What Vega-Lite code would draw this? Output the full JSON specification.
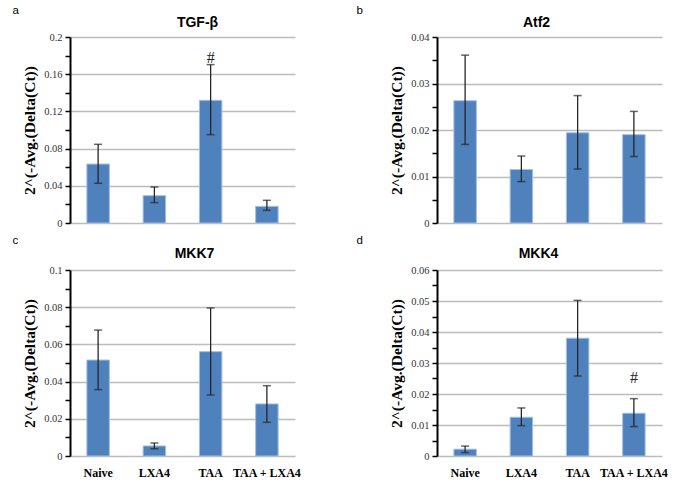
{
  "$schema": "https://vega.github.io/schema/vega-lite/v6.json",
  "padding": {"left": 12, "top": 4, "right": 0, "bottom": 0},
  "background": "white",
  "datasets": {
    "expr": [
      {"panel": "a", "group": "Naive", "mean": 0.0634, "lo": 0.0427, "hi": 0.0846, "sig": ""},
      {"panel": "a", "group": "LXA4", "mean": 0.0294, "lo": 0.0219, "hi": 0.0387, "sig": ""},
      {"panel": "a", "group": "TAA", "mean": 0.1319, "lo": 0.095, "hi": 0.1703, "sig": "#"},
      {"panel": "a", "group": "TAA + LXA4", "mean": 0.0179, "lo": 0.0136, "hi": 0.0244, "sig": ""},
      {"panel": "b", "group": "Naive", "mean": 0.0263, "lo": 0.0169, "hi": 0.0361, "sig": ""},
      {"panel": "b", "group": "LXA4", "mean": 0.0115, "lo": 0.0089, "hi": 0.0144, "sig": ""},
      {"panel": "b", "group": "TAA", "mean": 0.0194, "lo": 0.0116, "hi": 0.0274, "sig": ""},
      {"panel": "b", "group": "TAA + LXA4", "mean": 0.019, "lo": 0.0143, "hi": 0.024, "sig": ""},
      {"panel": "c", "group": "Naive", "mean": 0.0516, "lo": 0.0357, "hi": 0.0677, "sig": ""},
      {"panel": "c", "group": "LXA4", "mean": 0.0054, "lo": 0.0039, "hi": 0.007, "sig": ""},
      {"panel": "c", "group": "TAA", "mean": 0.0561, "lo": 0.0328, "hi": 0.0796, "sig": ""},
      {"panel": "c", "group": "TAA + LXA4", "mean": 0.028, "lo": 0.0181, "hi": 0.0378, "sig": ""},
      {"panel": "d", "group": "Naive", "mean": 0.0022, "lo": 0.0011, "hi": 0.0032, "sig": ""},
      {"panel": "d", "group": "LXA4", "mean": 0.0125, "lo": 0.0098, "hi": 0.0155, "sig": ""},
      {"panel": "d", "group": "TAA", "mean": 0.038, "lo": 0.0258, "hi": 0.0502, "sig": ""},
      {"panel": "d", "group": "TAA + LXA4", "mean": 0.0138, "lo": 0.0095, "hi": 0.0185, "sig": "#"}
    ]
  },
  "data": {"name": "expr"},
  "config": {
    "view": {"stroke": null},
    "title": {"font": "Liberation Sans", "fontWeight": "bold", "fontSize": 14, "color": "black", "anchor": "middle", "baseline": "alphabetic", "offset": 6},
    "axisY": {
      "domainColor": "black", "domainWidth": 2, "tickColor": "black", "tickWidth": 1.5, "tickSize": 5,
      "labelFont": "Liberation Serif", "labelFontSize": 10.5, "labelColor": "#333333", "labelPadding": 3,
      "titleFont": "Liberation Serif", "titleFontWeight": "bold", "titleFontSize": 15.5, "titleColor": "black", "titlePadding": 6,
      "gridColor": "#bcbcbc", "gridWidth": 1.5
    },
    "axisX": {
      "domain": false, "ticks": false, "grid": false,
      "labelFont": "Liberation Serif", "labelFontWeight": "bold", "labelFontSize": 12, "labelColor": "black", "labelPadding": 11, "labelAngle": 0,
      "titleFont": "Liberation Sans", "titleFontWeight": "normal", "titleFontSize": 11.5, "titleColor": "black",
      "titleAlign": "left", "titleBaseline": "alphabetic", "titleAnchor": "start"
    }
  },
  "columns": 2,
  "spacing": {"row": 47, "column": 142},
  "bounds": "flush",
  "concat": [
    {
      "width": 225, "height": 186,
      "title": {"text": "TGF-β", "dx": 15, "dy": 32},
      "transform": [{"filter": "datum.panel == 'a'"}],
      "resolve": {"axis": {"y": "independent"}},
      "encoding": {
        "x": {"field": "group", "type": "nominal", "sort": ["Naive", "LXA4", "TAA", "TAA + LXA4"],
              "scale": {"paddingInner": 0.6, "paddingOuter": 0.3},
              "axis": {"labels": false, "title": "a", "titleX": -58, "titleY": -210}}
      },
      "layer": [
        {"mark": {"type": "bar", "color": "#4f81bd", "stroke": "#a3bfe2", "strokeWidth": 1},
         "encoding": {"y": {"field": "mean", "type": "quantitative", "scale": {"domain": [0, 0.2]},
           "axis": {"title": "2^(-Avg.(Delta(Ct))", "orient": "left", "labelOverlap": false, "format": "~g",
             "values": [0, 0.04, 0.08, 0.12, 0.16, 0.2]}}}},
        {"mark": {"type": "rule", "color": "#262626", "strokeWidth": 1.3},
         "encoding": {"y": {"field": "lo", "type": "quantitative",
           "axis": {"title": null, "orient": "left", "labels": false, "grid": false, "domain": false,
             "values": [0.02, 0.06, 0.1, 0.14, 0.18]}}, "y2": {"field": "hi"}}},
        {"mark": {"type": "tick", "color": "#262626", "size": 8, "thickness": 1.5},
         "encoding": {"y": {"field": "lo", "type": "quantitative", "axis": null}}},
        {"mark": {"type": "tick", "color": "#262626", "size": 8, "thickness": 1.5},
         "encoding": {"y": {"field": "hi", "type": "quantitative", "axis": null}}},
        {"mark": {"type": "text", "font": "Liberation Serif", "fontSize": 16, "baseline": "middle", "dy": -7, "color": "#222222"},
         "encoding": {"y": {"field": "hi", "type": "quantitative", "axis": null}, "text": {"field": "sig"}}}
      ]
    },
    {
      "width": 225, "height": 186,
      "title": {"text": "Atf2", "dx": -13, "dy": 32},
      "transform": [{"filter": "datum.panel == 'b'"}],
      "resolve": {"axis": {"y": "independent"}},
      "encoding": {
        "x": {"field": "group", "type": "nominal", "sort": ["Naive", "LXA4", "TAA", "TAA + LXA4"],
              "scale": {"paddingInner": 0.6, "paddingOuter": 0.3},
              "axis": {"labels": false, "title": "b", "titleX": -81, "titleY": -210}}
      },
      "layer": [
        {"mark": {"type": "bar", "color": "#4f81bd", "stroke": "#a3bfe2", "strokeWidth": 1},
         "encoding": {"y": {"field": "mean", "type": "quantitative", "scale": {"domain": [0, 0.04]},
           "axis": {"title": "2^(-Avg.(Delta(Ct))", "orient": "left", "labelOverlap": false, "format": "~g",
             "values": [0, 0.01, 0.02, 0.03, 0.04]}}}},
        {"mark": {"type": "rule", "color": "#262626", "strokeWidth": 1.3},
         "encoding": {"y": {"field": "lo", "type": "quantitative",
           "axis": {"title": null, "orient": "left", "labels": false, "grid": false, "domain": false,
             "values": [0.005, 0.015, 0.025, 0.035]}}, "y2": {"field": "hi"}}},
        {"mark": {"type": "tick", "color": "#262626", "size": 8, "thickness": 1.5},
         "encoding": {"y": {"field": "lo", "type": "quantitative", "axis": null}}},
        {"mark": {"type": "tick", "color": "#262626", "size": 8, "thickness": 1.5},
         "encoding": {"y": {"field": "hi", "type": "quantitative", "axis": null}}}
      ]
    },
    {
      "width": 225, "height": 186,
      "title": {"text": "MKK7", "dx": 12, "dy": 33},
      "transform": [{"filter": "datum.panel == 'c'"}],
      "resolve": {"axis": {"y": "independent"}},
      "encoding": {
        "x": {"field": "group", "type": "nominal", "sort": ["Naive", "LXA4", "TAA", "TAA + LXA4"],
              "scale": {"paddingInner": 0.6, "paddingOuter": 0.3},
              "axis": {"title": "c", "titleX": -58, "titleY": -213}}
      },
      "layer": [
        {"mark": {"type": "bar", "color": "#4f81bd", "stroke": "#a3bfe2", "strokeWidth": 1},
         "encoding": {"y": {"field": "mean", "type": "quantitative", "scale": {"domain": [0, 0.1]},
           "axis": {"title": "2^(-Avg.(Delta(Ct))", "orient": "left", "labelOverlap": false, "format": "~g",
             "values": [0, 0.02, 0.04, 0.06, 0.08, 0.1]}}}},
        {"mark": {"type": "rule", "color": "#262626", "strokeWidth": 1.3},
         "encoding": {"y": {"field": "lo", "type": "quantitative",
           "axis": {"title": null, "orient": "left", "labels": false, "grid": false, "domain": false,
             "values": [0.01, 0.03, 0.05, 0.07, 0.09]}}, "y2": {"field": "hi"}}},
        {"mark": {"type": "tick", "color": "#262626", "size": 8, "thickness": 1.5},
         "encoding": {"y": {"field": "lo", "type": "quantitative", "axis": null}}},
        {"mark": {"type": "tick", "color": "#262626", "size": 8, "thickness": 1.5},
         "encoding": {"y": {"field": "hi", "type": "quantitative", "axis": null}}}
      ]
    },
    {
      "width": 225, "height": 186,
      "title": {"text": "MKK4", "dx": -11, "dy": 33},
      "transform": [{"filter": "datum.panel == 'd'"}],
      "resolve": {"axis": {"y": "independent"}},
      "encoding": {
        "x": {"field": "group", "type": "nominal", "sort": ["Naive", "LXA4", "TAA", "TAA + LXA4"],
              "scale": {"paddingInner": 0.6, "paddingOuter": 0.3},
              "axis": {"title": "d", "titleX": -81, "titleY": -213}}
      },
      "layer": [
        {"mark": {"type": "bar", "color": "#4f81bd", "stroke": "#a3bfe2", "strokeWidth": 1},
         "encoding": {"y": {"field": "mean", "type": "quantitative", "scale": {"domain": [0, 0.06]},
           "axis": {"title": "2^(-Avg.(Delta(Ct))", "orient": "left", "labelOverlap": false, "format": "~g",
             "values": [0, 0.01, 0.02, 0.03, 0.04, 0.05, 0.06]}}}},
        {"mark": {"type": "rule", "color": "#262626", "strokeWidth": 1.3},
         "encoding": {"y": {"field": "lo", "type": "quantitative",
           "axis": {"title": null, "orient": "left", "labels": false, "grid": false, "domain": false,
             "values": [0.005, 0.015, 0.025, 0.035, 0.045, 0.055]}}, "y2": {"field": "hi"}}},
        {"mark": {"type": "tick", "color": "#262626", "size": 8, "thickness": 1.5},
         "encoding": {"y": {"field": "lo", "type": "quantitative", "axis": null}}},
        {"mark": {"type": "tick", "color": "#262626", "size": 8, "thickness": 1.5},
         "encoding": {"y": {"field": "hi", "type": "quantitative", "axis": null}}},
        {"mark": {"type": "text", "font": "Liberation Serif", "fontSize": 16, "baseline": "middle", "dy": -21, "color": "#222222"},
         "encoding": {"y": {"field": "hi", "type": "quantitative", "axis": null}, "text": {"field": "sig"}}}
      ]
    }
  ]
}
